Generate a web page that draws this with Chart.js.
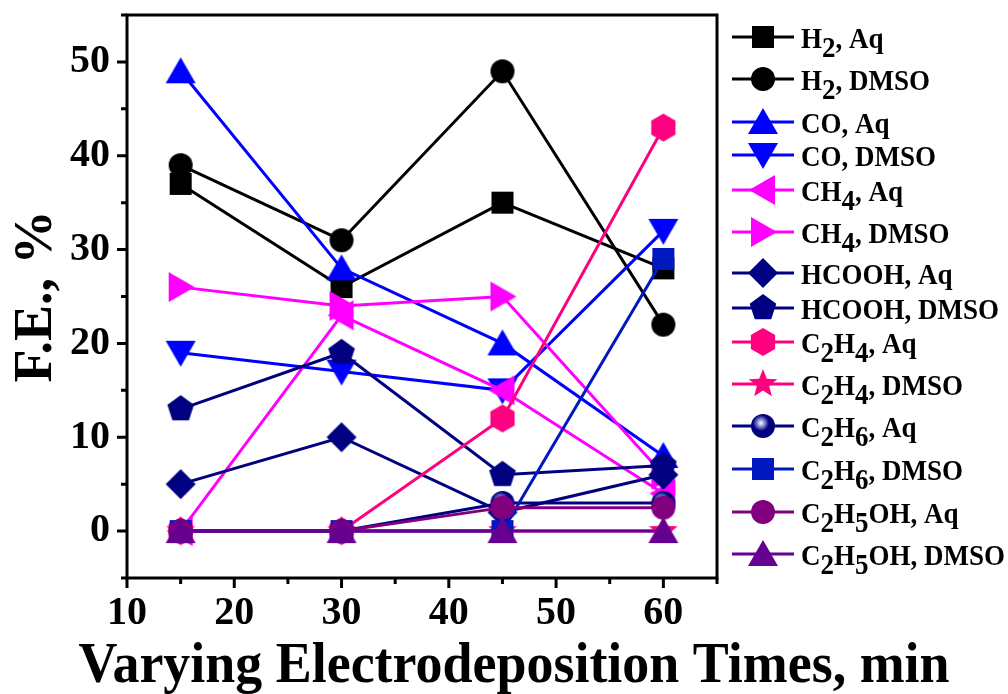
<!DOCTYPE html>
<html>
<head>
<meta charset="utf-8">
<script src="https://cdn.jsdelivr.net/npm/chart.js@4.4.1/dist/chart.umd.min.js"></script>
<style>
  html, body { margin: 0; padding: 0; background: #fff; }
</style>
</head>
<body>
<canvas id="grafico" width="1008" height="694"></canvas>
<script>
// tempos de eletrodeposição (min) e eficiência faradaica (%) de cada produto
const tempos = [15, 30, 45, 60];
const ticksX = [10, 20, 30, 40, 50, 60];
const ticksY = [0, 10, 20, 30, 40, 50];

const h2Aq = [37, 26, 35, 28];
const h2Dmso = [39, 31, 49, 22];
const coAq = [49, 28, 20, 8];
const coDmso = [19, 17, 15, 32];
const ch4Aq = [0, 23, 15, 4];
const ch4Dmso = [26, 24, 25, 6];
const hcoohAq = [5, 10, 2, 6];
const hcoohDmso = [13, 19, 6, 7];
const c2h4Aq = [0, 0, 12, 43];
const c2h4Dmso = [0, 0, 0, 0];
const c2h6Aq = [0, 0, 3, 3];
const c2h6Dmso = [0, 0, 0, 29];
const c2h5ohAq = [0, 0, 2.5, 2.5];
const c2h5ohDmso = [0, 0, 0, 0];

const nomes = ['H2, Aq', 'H2, DMSO', 'CO, Aq', 'CO, DMSO', 'CH4, Aq', 'CH4, DMSO',
    'HCOOH, Aq', 'HCOOH, DMSO', 'C2H4, Aq', 'C2H4, DMSO', 'C2H6, Aq', 'C2H6, DMSO',
    'C2H5OH, Aq', 'C2H5OH, DMSO'];
const series = [h2Aq, h2Dmso, coAq, coDmso, ch4Aq, ch4Dmso, hcoohAq, hcoohDmso,
    c2h4Aq, c2h4Dmso, c2h6Aq, c2h6Dmso, c2h5ohAq, c2h5ohDmso];

const tituloX = 'Varying Electrodeposition Times, min';
const tituloY = 'F.E., %';

const cores = ['#000000', '#000000', '#0000ff', '#0000ff', '#ff00ff', '#ff00ff',
    '#000080', '#000080', '#ff0080', '#ff0080', '#000080', '#0018c0', '#800080', '#660090'];
const formas = ['quadrado', 'circulo', 'triCima', 'triBaixo', 'triEsq', 'triDir',
    'losango', 'pentagono', 'hexagono', 'estrela', 'esfera', 'quadrado', 'circulo', 'triCima'];

const FONTE = 'Liberation Serif, Times New Roman, serif';

function poligono(ctx, n, r) {
    for (let i = 0; i < n; i++) {
        const a = -Math.PI / 2 + i * 2 * Math.PI / n;
        const px = r * Math.cos(a), py = r * Math.sin(a);
        if (i === 0) ctx.moveTo(px, py); else ctx.lineTo(px, py);
    }
}

function criarMarcador(forma, cor) {
    const c = document.createElement('canvas');
    c.width = 34;
    c.height = 34;
    const ctx = c.getContext('2d');
    ctx.translate(17, 17);
    ctx.fillStyle = cor;
    ctx.beginPath();
    switch (forma) {
        case 'quadrado': ctx.rect(-11, -11, 22, 22); break;
        case 'circulo': ctx.arc(0, 0, 12, 0, Math.PI * 2); break;
        case 'esfera': {
            const g = ctx.createRadialGradient(-2, -3, 0, -2, -3, 8);
            g.addColorStop(0, '#ffffff');
            g.addColorStop(0.4, '#9a9ad6');
            g.addColorStop(1, cor);
            ctx.fillStyle = g;
            ctx.arc(0, 0, 12, 0, Math.PI * 2);
            break;
        }
        case 'triCima': ctx.moveTo(0, -14); ctx.lineTo(15, 12); ctx.lineTo(-15, 12); break;
        case 'triBaixo': ctx.moveTo(0, 14); ctx.lineTo(15, -12); ctx.lineTo(-15, -12); break;
        case 'triEsq': ctx.moveTo(-14, 0); ctx.lineTo(12, -15); ctx.lineTo(12, 15); break;
        case 'triDir': ctx.moveTo(14, 0); ctx.lineTo(-12, -15); ctx.lineTo(-12, 15); break;
        case 'losango': ctx.moveTo(0, -15); ctx.lineTo(15, 0); ctx.lineTo(0, 15); ctx.lineTo(-15, 0); break;
        case 'pentagono': poligono(ctx, 5, 14); break;
        case 'hexagono': poligono(ctx, 6, 14); break;
        case 'estrela':
            for (let i = 0; i < 10; i++) {
                const r = i % 2 === 0 ? 15 : 6.5;
                const a = -Math.PI / 2 + i * Math.PI / 5;
                if (i === 0) ctx.moveTo(r * Math.cos(a), r * Math.sin(a));
                else ctx.lineTo(r * Math.cos(a), r * Math.sin(a));
            }
            break;
    }
    ctx.closePath();
    ctx.fill();
    return c;
}

const marcadores = formas.map((f, i) => criarMarcador(f, cores[i]));

const datasets = series.map((valores, i) => ({
    label: nomes[i],
    data: valores.map((v, k) => ({ x: tempos[k], y: v })),
    borderColor: cores[i],
    backgroundColor: cores[i],
    borderWidth: 3,
    pointStyle: marcadores[i],
    pointRadius: 12,
    tension: 0,
    fill: false,
    order: series.length - i,
}));

// moldura e marcas dos eixos (principais a cada 10, secundárias a cada 5)
const molduraPlugin = {
    id: 'moldura',
    afterDatasetsDraw(chart) {
        const { ctx, chartArea: a, scales } = chart;
        ctx.save();
        ctx.strokeStyle = '#000';
        ctx.lineWidth = 3;
        ctx.strokeRect(a.left, a.top, a.right - a.left, a.bottom - a.top);
        ctx.beginPath();
        for (let v = 10; v <= 65; v += 5) {
            const px = scales.x.getPixelForValue(v);
            const len = v % 10 === 0 ? 10 : 6;
            ctx.moveTo(px, a.bottom);
            ctx.lineTo(px, a.bottom + len);
        }
        for (let v = -5; v <= 55; v += 5) {
            const py = scales.y.getPixelForValue(v);
            const len = v % 10 === 0 ? 10 : 6;
            ctx.moveTo(a.left, py);
            ctx.lineTo(a.left - len, py);
        }
        ctx.stroke();

        // título do eixo x, mais largo que a área do gráfico
        ctx.font = 'bold 58px ' + FONTE;
        ctx.fillStyle = '#000';
        ctx.textAlign = 'center';
        ctx.textBaseline = 'alphabetic';
        ctx.translate(514, 682);
        ctx.scale(0.93, 1);
        ctx.fillText(tituloX, 0, 0);
        ctx.restore();
    }
};

const linhasLegenda = [37, 79, 122, 155, 190, 232, 273, 308, 342, 384, 426, 469, 512, 554];

function escreverRotulo(ctx, texto, x, y) {
    // dígitos depois de letra viram índice (H2, C2H5OH...)
    ctx.save();
    ctx.translate(x, y);
    ctx.scale(0.9, 1);
    let cx = 0;
    for (let i = 0; i < texto.length; i++) {
        const ch = texto[i];
        const indice = /\d/.test(ch) && i > 0 && /[A-Za-z]/.test(texto[i - 1]);
        ctx.fillText(ch, cx, indice ? 9 : 0);
        cx += ctx.measureText(ch).width;
    }
    ctx.restore();
}

const legendaPlugin = {
    id: 'legendaLateral',
    afterDraw(chart) {
        const ctx = chart.ctx;
        ctx.save();
        ctx.font = 'bold 30px ' + FONTE;
        ctx.fillStyle = '#000';
        ctx.textBaseline = 'alphabetic';
        chart.data.datasets.forEach((ds, i) => {
            const y = linhasLegenda[i];
            ctx.strokeStyle = ds.borderColor;
            ctx.lineWidth = 3;
            ctx.beginPath();
            ctx.moveTo(732, y);
            ctx.lineTo(794, y);
            ctx.stroke();
            const m = ds.pointStyle;
            ctx.drawImage(m, 763 - m.width / 2, y - m.height / 2);
            escreverRotulo(ctx, ds.label, 801, y + 11);
        });
        ctx.restore();
    }
};

new Chart(document.getElementById('grafico'), {
    type: 'line',
    data: { datasets: datasets },
    options: {
        responsive: false,
        animation: false,
        events: [],
        layout: { padding: { left: 0, right: 291, top: 14, bottom: 0 } },
        plugins: {
            legend: { display: false },
            tooltip: { enabled: false },
        },
        scales: {
            x: {
                type: 'linear',
                min: 10,
                max: 65,
                grid: { display: false, drawTicks: false },
                border: { display: false },
                afterBuildTicks: (s) => { s.ticks = ticksX.map(v => ({ value: v })); },
                afterFit: (s) => {
                    s.height = 116;
                    s.paddingLeft = 0; s.paddingRight = 0;
                },
                ticks: {
                    padding: 12,
                    color: '#000',
                    font: { family: FONTE, size: 40, weight: 'bold' },
                },
                title: { display: false },
            },
            y: {
                min: -5,
                max: 55,
                grid: { display: false, drawTicks: false },
                border: { display: false },
                afterBuildTicks: (s) => { s.ticks = ticksY.map(v => ({ value: v })); },
                afterFit: (s) => {
                    s.width = 127;
                    s.paddingTop = 0; s.paddingBottom = 0;
                },
                ticks: {
                    padding: 17,
                    color: '#000',
                    font: { family: FONTE, size: 40, weight: 'bold' },
                },
                title: {
                    display: true,
                    text: tituloY,
                    color: '#000',
                    font: { family: FONTE, size: 54, weight: 'bold' },
                    padding: { top: 5, bottom: 0 },
                },
            },
        },
    },
    plugins: [molduraPlugin, legendaPlugin],
});
</script>
</body>
</html>
